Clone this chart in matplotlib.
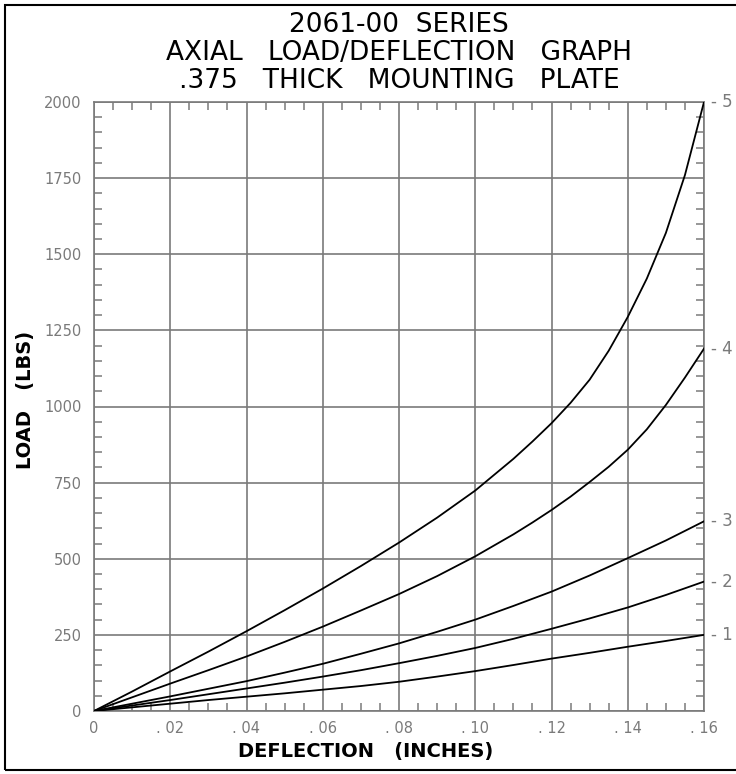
import numpy as np
import matplotlib.pyplot as plt
from matplotlib.patches import Rectangle
from matplotlib.ticker import MultipleLocator, FuncFormatter

# deflection (inches) / load (lbs)
deflA = [0, .01, .02, .03, .04, .05, .06, .07, .08, .09, .10, .11, .12, .13, .14, .15, .16]
load1 = [0, 12, 24, 36, 47, 58, 70, 82, 96, 113, 131, 151, 172, 191, 211, 230, 250]
load2 = [0, 18, 36, 55, 74, 93, 113, 134, 157, 181, 207, 237, 270, 304, 340, 381, 425]
load3 = [0, 24, 48, 73, 98, 126, 155, 188, 222, 260, 300, 345, 392, 445, 502, 560, 623]

deflB = [0, .01, .02, .03, .04, .05, .06, .07, .08, .09, .10, .11, .115, .12, .125, .13,
         .135, .14, .145, .15, .155, .16]
load4 = [0, 45, 90, 134, 179, 227, 277, 330, 384, 443, 508, 580, 619, 660, 704, 752,
         802, 858, 925, 1005, 1095, 1190]
load5 = [0, 64, 130, 195, 262, 331, 402, 476, 553, 635, 724, 828, 885, 945, 1012, 1088,
         1183, 1294, 1420, 1570, 1760, 2000]

curve_names = ['- 1', '- 2', '- 3', '- 4', '- 5']
x_ticks = [0, .02, .04, .06, .08, .10, .12, .14, .16]
x_ticklabels = ['0', '. 02', '. 04', '. 06', '. 08', '. 10', '. 12', '. 14', '. 16']
y_ticks = [0, 250, 500, 750, 1000, 1250, 1500, 1750, 2000]

grey = '#7a7a7a'

fig = plt.figure(figsize=(7.36, 7.74), dpi=100)
ax = fig.add_axes([94/736, 63/774, 610/736, 609/774])

series = [(deflA, load1), (deflA, load2), (deflA, load3), (deflB, load4), (deflB, load5)]
for (xs, ys), name in zip(series, curve_names):
    ax.plot(xs, ys, color='black', lw=1.3, zorder=3)
    ax.text(1.012, ys[-1], name, transform=ax.get_yaxis_transform(),
            ha='left', va='center', fontsize=12, color=grey)

ax.set_xlim(0, 0.16)
ax.set_ylim(0, 2000)
ax.set_xticks(x_ticks)
ax.set_xticklabels(x_ticklabels)
ax.set_yticks(y_ticks)
ax.yaxis.set_major_formatter(FuncFormatter(lambda v, p: '%d' % v))
ax.xaxis.set_minor_locator(MultipleLocator(0.005))
ax.yaxis.set_minor_locator(MultipleLocator(50))
ax.grid(True, which='major', color=grey, lw=1.2)
ax.tick_params(which='major', length=0, labelsize=10.5, labelcolor=grey)
ax.tick_params(axis='x', which='major', pad=7)
ax.tick_params(axis='y', which='major', pad=9)
ax.tick_params(which='minor', direction='in', length=6, width=1.1, color=grey,
               top=True, right=True)
for s in ax.spines.values():
    s.set_color(grey)
    s.set_linewidth(1.2)

title_lines = ['2061-00  SERIES', 'AXIAL   LOAD/DEFLECTION   GRAPH', '.375   THICK   MOUNTING   PLATE']
for i, t in enumerate(title_lines):
    fig.text(399/736, 1 - (25.5 + 27.5*i)/774, t, ha='center', va='center',
             fontsize=19, color='black')

fig.text(366/736, 1 - 751/774, 'DEFLECTION   (INCHES)', ha='center', va='center',
         fontsize=14, fontweight='bold')
fig.text(25/736, 1 - 400/774, 'LOAD   (LBS)', ha='center', va='center',
         fontsize=14, fontweight='bold', rotation=90)

fig.patches.append(Rectangle((5/736, 4/774), 740/736, 765/774, transform=fig.transFigure,
                             fill=False, edgecolor='black', lw=1.5))

fig.savefig('out.png', dpi=100)
